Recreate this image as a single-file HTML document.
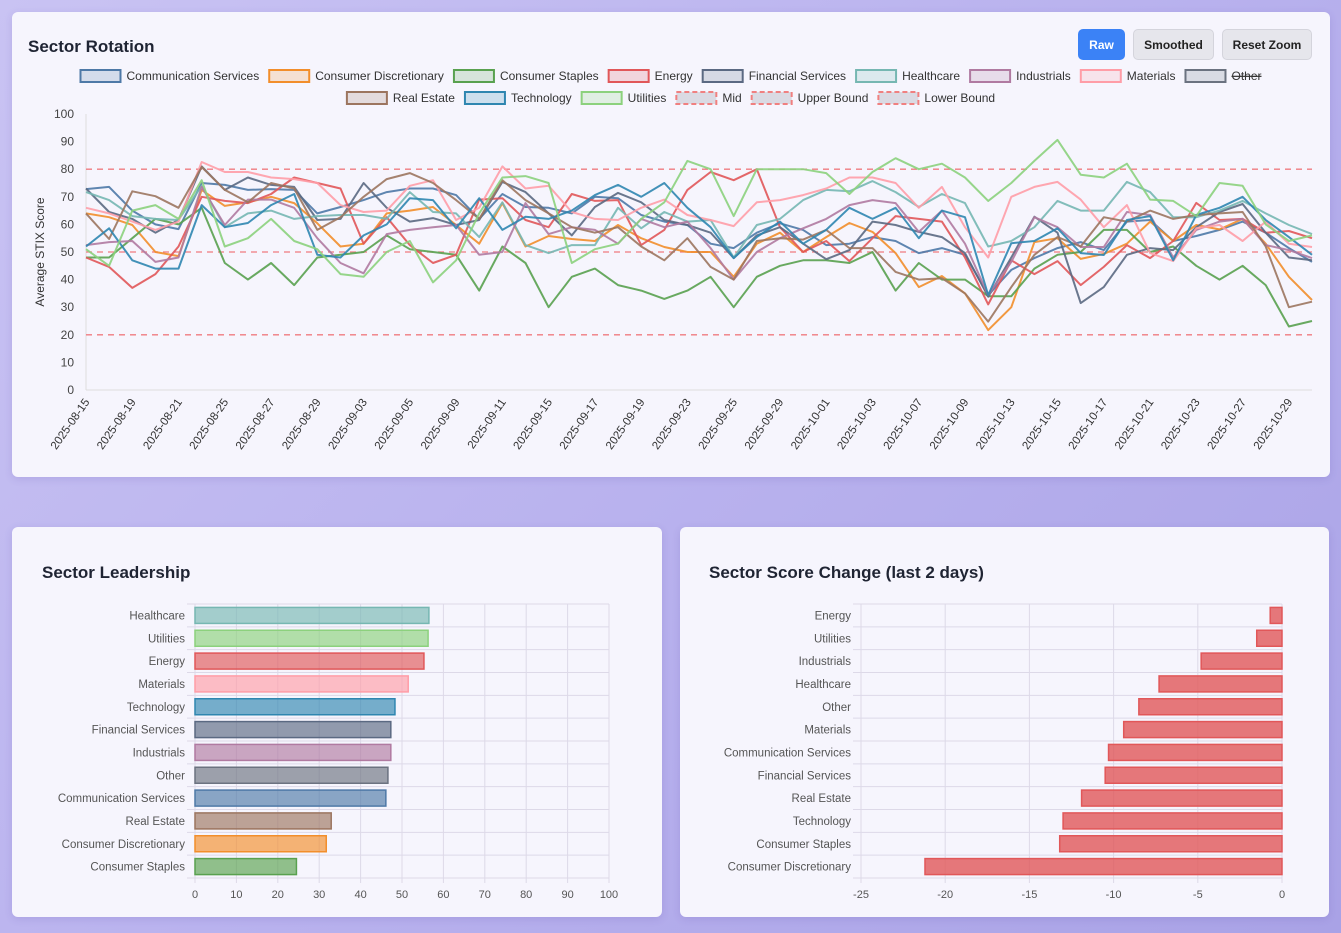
<!DOCTYPE html>
<html><head><meta charset="utf-8">
<style>
body{margin:0;width:1341px;height:933px;overflow:hidden;background:linear-gradient(135deg,#c9c3f3 0%,#b9b2ee 50%,#a9a2e6 100%);font-family:"Liberation Sans",sans-serif;position:relative}
.card{position:absolute;background:#f6f5fd;border-radius:6px;box-shadow:0 2px 8px rgba(80,60,160,.15)}
.btn{position:absolute;top:29px;height:31px;border-radius:5px;font-size:12px;font-weight:bold;display:flex;align-items:center;justify-content:center;box-sizing:border-box}
svg{position:absolute;left:0;top:0}
</style></head><body>
<div class="card" style="left:12px;top:12px;width:1318px;height:465px"></div>
<div class="card" style="left:12px;top:527px;width:650px;height:390px"></div>
<div class="card" style="left:680px;top:527px;width:649px;height:390px"></div>
<div class="btn" style="left:1078px;width:47px;background:#3b82f6;color:#fff">Raw</div>
<div class="btn" style="left:1133px;width:81px;background:#e6e6ec;color:#222;border:1px solid #d4d4dc">Smoothed</div>
<div class="btn" style="left:1222px;width:90px;background:#e6e6ec;color:#222;border:1px solid #d4d4dc">Reset Zoom</div>
<svg id="s" width="1341" height="933" xmlns="http://www.w3.org/2000/svg" font-family="Liberation Sans, sans-serif"></svg>
<script>
const sectors=["Communication Services","Consumer Discretionary","Consumer Staples","Energy","Financial Services","Healthcare","Industrials","Materials","Other","Real Estate","Technology","Utilities"];
const colors=["#4e79a7","#f28e2b","#59a14f","#e15759","#5b6982","#76b7b2","#b07aa1","#ff9da7","#6b7280","#9c755f","#2f86b0","#8cd17d"];
const xLabels=["2025-08-15","2025-08-19","2025-08-21","2025-08-25","2025-08-27","2025-08-29","2025-09-03","2025-09-05","2025-09-09","2025-09-11","2025-09-15","2025-09-17","2025-09-19","2025-09-23","2025-09-25","2025-09-29","2025-10-01","2025-10-03","2025-10-07","2025-10-09","2025-10-13","2025-10-15","2025-10-17","2025-10-21","2025-10-23","2025-10-27","2025-10-29"];
const yTicks=[0,10,20,30,40,50,60,70,80,90,100];
const commSvc=[72.8,73.6,65,60,58.3,75,74.3,72.5,72.8,72.5,64,66.3,68.8,71.7,73,73,70.6,62,71,66.3,66,64,70,69.5,63.4,61,59.8,53,51.4,57,60.4,58,52.5,53,55.4,54,49.6,51.4,49,34.4,43.5,47.8,51.4,53.6,50.7,61,61.6,54,55.8,58,61,57,51.4,46.4];
const consDisc=[64,62.6,59.8,50,48.5,72.5,66.7,68,70,67.7,60.4,52,53,64,65,66.3,59.8,53,67.7,52,55.8,54.7,54,59.8,55,51.8,50,50,41,53,57,50,55.4,60.5,57.3,49.6,37.3,41.3,35,21.7,30,53.6,55,47.5,49.3,53,61,54,59.8,58.2,62,53,41,32.6];
const consStaples=[48,48,55,62,60,66,46,40,46,38,48,49,50,56,51,50,49,36,52,46,30,41,44,38,36,33,36,41,30,41,45,47,47,46,50,36,46,40,40,34,34,44,49,50,58,58,50,52,45,40,45,38,23,25];
const energy=[48,44.6,37,42,52,70,68.5,67.7,71,77,75,73,53,62.6,52.5,46,49,69,69.5,61.6,59,71,68.5,68.8,52.5,58,72.5,79,76,80,59,50,54,46.7,55,63,62,61,48,31,47,42,46.7,38,44.6,52.5,47.8,54,67.8,61.6,62,57,57.6,55];
const financial=[73,64.5,62,57,61.6,81,72.5,77,74.3,73.6,61.6,62,75,66,61,62.3,59.8,61.6,75.4,71.7,64,56,66.3,71.4,68,61.6,59.8,57,47.8,56,59,53,47.4,50.7,61,59.8,57.3,55.4,49.6,33.8,48,62.8,57,31.5,37.3,49,51.4,50.7,59,64.5,67.4,57,48,47];
const healthcare=[71.7,68.8,63,62,61.6,74,59,64,65,62,63,63.4,63.4,62,71.7,64.5,64,55.4,68,52.5,49.6,52.5,52.5,66,58.6,64.5,61,61.6,48,59.8,62,68.8,72.5,72,75.7,71.7,66.3,71,67.7,52,54,59,68.5,65,65,75.4,71.7,62.6,62.6,65,68.5,64,59.8,56.5];
const industrials=[52.5,53.6,54,46.4,48,73.6,59.8,69,69,66,55,46,42.3,56.5,58,59,59.8,49,50,67.7,56.5,59,58,53,62,59,61,51.4,40,50,55,58.6,62,67,68.8,67.7,57.3,65,53,34.4,46.4,62.6,59,51.8,51.8,64.5,63.4,48,58,61,62,52.5,50.7,47.8];
const materials=[66,64,61,58,61,82.6,79,79,77,76.4,75,67,64.5,65,74,76,61.6,66,81,73,74,64.5,62,61.6,66,69,63.4,61.6,59.4,68,68.8,70.6,73,77,77,75,66,73.6,59,48,70,73.6,75.4,69,59,67,49.6,46.7,58.6,59.8,54,61,53,51.8];
const realEstate=[64,54.7,72,70.2,66,80.8,72.5,68,75,73,58,62.6,70,76.4,78.6,75,68.8,62,76,68.8,64,59,57,59,52,47,55,44.6,40,54,55,54.5,58,51.4,51.4,42.8,40,40.5,35,24.8,37.3,49,55.4,52,62.6,61,65,62,63.4,64,64.5,52,30,32];
const technology=[52,58.6,47,44,44,67,59,60.5,67,71,49,48,56,60,69.5,68.8,58.6,69.5,58,62.8,62,65,70.6,74.3,70,75,66,59,47.8,55.4,61,53,58,66,62,66,55,65,62.6,34.4,53.2,54,58.6,49.6,48.9,61.6,63,47,63.4,66,70,61.6,55.4,49];
const utilities=[51,45,65,67,62,76,52,55,62,54,51,42,41,50,54,39,47,64,77,77.5,75,46,51,53,62,68,83,80,63,80,80,80,78.6,71,79,84,80,82,77,68.5,75,83,90.6,78,77,82,69,68.5,63,75,74,60,54,56];
const seriesData=[commSvc,consDisc,consStaples,energy,financial,healthcare,industrials,materials,null,realEstate,technology,utilities];
const leaderCats=["Healthcare","Utilities","Energy","Materials","Technology","Financial Services","Industrials","Other","Communication Services","Real Estate","Consumer Discretionary","Consumer Staples"];
const leaderVals=[56.5,56.3,55.3,51.5,48.3,47.3,47.3,46.6,46.1,32.9,31.7,24.5];
const leaderTicks=[0,10,20,30,40,50,60,70,80,90,100];
const changeCats=["Energy","Utilities","Industrials","Healthcare","Other","Materials","Communication Services","Financial Services","Real Estate","Technology","Consumer Staples","Consumer Discretionary"];
const changeVals=[-0.7,-1.5,-4.8,-7.3,-8.5,-9.4,-10.3,-10.5,-11.9,-13,-13.2,-21.2];
const changeTicks=[-25,-20,-15,-10,-5,0];

const S=document.getElementById('s');const NS="http://www.w3.org/2000/svg";
function mk(t,a,txt){const e=document.createElementNS(NS,t);for(const k in a)e.setAttribute(k,a[k]);if(txt!=null)e.textContent=txt;S.appendChild(e);return e;}
function hexA(h,a){const n=parseInt(h.slice(1),16);return `rgba(${n>>16},${(n>>8)&255},${n&255},${a})`;}

let t;
t=mk('text',{x:28,y:52,'font-size':17,'font-weight':'bold',fill:'#1f2433'},'Sector Rotation');


t=mk('text',{x:42,y:578,'font-size':17,'font-weight':'bold',fill:'#1f2433'},'Sector Leadership');


t=mk('text',{x:709,y:578,'font-size':17,'font-weight':'bold',fill:'#1f2433'},'Sector Score Change (last 2 days)');



// legend
const legendItems=sectors.map((s,i)=>({label:s,color:colors[i],dash:false,off:s==="Other"})).concat([{label:"Mid",color:"#f08080",dash:true},{label:"Upper Bound",color:"#f08080",dash:true},{label:"Lower Bound",color:"#f08080",dash:true}]);
const rows=[legendItems.slice(0,9),legendItems.slice(9)];
const rowY=[76,98];
rows.forEach((row,ri)=>{
  const groups=row.map(it=>{
    const g=document.createElementNS(NS,'g');S.appendChild(g);
    
    
    const r=document.createElementNS(NS,'rect');
    const attrs={y:rowY[ri]-6,width:40,height:12,fill:it.dash?'rgba(200,200,210,0.6)':hexA(it.color,0.2),stroke:it.color,'stroke-width':2};
    if(it.dash)attrs['stroke-dasharray']='5,3';
    for(const kk in attrs)r.setAttribute(kk,attrs[kk]);g.appendChild(r);
    const tx=document.createElementNS(NS,'text');tx.setAttribute('y',rowY[ri]+4);tx.setAttribute('font-size',12);tx.setAttribute('fill','#333');
    if(it.off)tx.setAttribute('text-decoration','line-through');
    tx.textContent=it.label;g.appendChild(tx);
    return {r,tx,w:40+6+tx.getComputedTextLength()};
  });
  const gap=10;
  const total=groups.reduce((a,g)=>a+g.w,0)+gap*(groups.length-1);
  let x=671-total/2;
  groups.forEach(g=>{g.r.setAttribute('x',x);g.tx.setAttribute('x',x+46);x+=g.w+gap;});
});

const L=86,R=1312,T=114,B=390;
const N=commSvc.length;
const xs=i=>L+i*(R-L)/(N-1);
const ys=v=>B-v*(B-T)/100;
yTicks.forEach(v=>{
  t=mk('text',{x:74,y:ys(v)+4,'font-size':12,fill:'#444','text-anchor':'end'},v);
  
  
});
mk('line',{x1:L,y1:T,x2:L,y2:B,stroke:'#ddd'});
mk('line',{x1:L,y1:B,x2:R,y2:B,stroke:'#ddd'});
t=mk('text',{x:44,y:252,'font-size':12,fill:'#333','text-anchor':'middle',transform:'rotate(-90 44 252)'},'Average STIX Score');


xLabels.forEach((lab,k)=>{
  const x=xs(k*2);
  t=mk('text',{x:x+4,y:B+12,'font-size':11.5,fill:'#333','text-anchor':'end',transform:`rotate(-55 ${x+4} ${B+12})`},lab);
  
  
});
[[80,'upper-bound-line'],[50,'mid-line'],[20,'lower-bound-line']].forEach(([v,n])=>{
  const l=mk('line',{x1:L,y1:ys(v),x2:R,y2:ys(v),stroke:'#f07b80','stroke-width':1.3,'stroke-dasharray':'6,5'});
  
  
});
seriesData.forEach((arr,si)=>{
  if(!arr)return;
  const p=mk('polyline',{points:arr.map((v,i)=>xs(i).toFixed(1)+','+ys(v).toFixed(1)).join(' '),fill:'none',stroke:colors[si],'stroke-width':2,'stroke-linejoin':'round','stroke-opacity':0.9});
  
  
});

function barChart(cats,vals,ticks,L2,R2,T2,B2,labelX,prefix,useColors){
  const lo=ticks[0],hi=ticks[ticks.length-1];
  const bx=v=>L2+(v-lo)*(R2-L2)/(hi-lo);
  const step=(B2-T2)/cats.length;
  ticks.forEach(v=>{
    mk('line',{x1:bx(v),y1:T2,x2:bx(v),y2:B2+5,stroke:'#ddd9e8'});
    t=mk('text',{x:bx(v),y:B2+20,'font-size':11,fill:'#555','text-anchor':'middle'},v);
    
    
  });
  for(let k=0;k<=cats.length;k++)mk('line',{x1:L2-8,y1:T2+k*step,x2:R2,y2:T2+k*step,stroke:'#ddd9e8'});
  cats.forEach((c,k)=>{
    const cy=T2+step*(k+0.5);
    t=mk('text',{x:labelX,y:cy+4,'font-size':11.5,fill:'#555','text-anchor':'end'},c);
    
    
    const col=useColors?colors[sectors.indexOf(c)]:'#e15759';
    const x0=bx(Math.min(0,vals[k])),x1=bx(Math.max(0,vals[k]));
    const r=mk('rect',{x:x0,y:cy-8,width:x1-x0,height:16,fill:hexA(col,useColors?0.65:0.8),stroke:col,'stroke-width':1.5});
    
    
  });
}
barChart(leaderCats,leaderVals,leaderTicks,195,609,604,878,185,'leadership',true);
barChart(changeCats,changeVals,changeTicks,861,1282,604,878,851,'change',false);
</script>
</body></html>
